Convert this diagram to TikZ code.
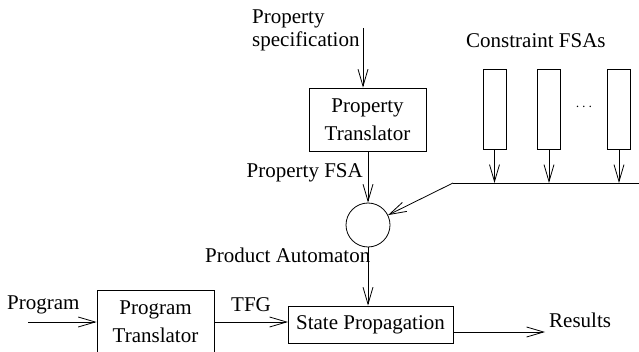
\documentclass[tikz,border=0pt]{standalone}
\usepackage{fontspec}
\setmainfont{Liberation Serif}
\usetikzlibrary{arrows.meta}
\begin{document}
\begin{tikzpicture}[x=1pt,y=-1pt,
  every node/.style={font=\fontsize{21}{28.5}\selectfont, inner sep=0pt},
  blk/.style={draw, line width=0.8pt, minimum width=#1, align=center},
  fsa/.style={draw, line width=0.8pt, minimum width=23pt, minimum height=80pt},
  arr/.style={-{Straight Barb[length=17pt,width=10pt]}, line width=0.8pt},
  ln/.style={line width=0.8pt}]
\useasboundingbox (0,0) rectangle (639,352);
% boxes
\node[blk=117pt, minimum height=63pt] (pt) at (367.5,119.5) {Property\\Translator};
\node[blk=117pt, minimum height=63pt] (prt) at (155.5,321.5) {Program\\Translator};
\node[blk=165pt, minimum height=37pt] (sp) at (370.5,324.5) {State Propagation};
\node[draw, circle, line width=0.8pt, minimum size=44pt] (circ) at (368,225) {};
\node[fsa] (c1) at (494.5,109) {};
\node[fsa] (c2) at (549,109) {};
\node[fsa] (c3) at (619,109) {};
\node (dots) at (584,107) {\fontsize{14}{14}\selectfont $\cdots$};
% labels
\node[anchor=base west] (specA) at (252,24) {Property};
\node[anchor=base west] (specB) at (252,47) {specification};
\node[anchor=base west] (cfsa) at (466,48) {Constraint FSAs};
\node[anchor=base east] (pfsa) at (363,178) {Property FSA};
\node[anchor=base west] (pa) at (205,263) {Product Automaton};
\node[anchor=base west] (prog) at (7,309) {Program};
\node[anchor=base west] (tfg) at (231,311) {TFG};
\node[anchor=base west] (res) at (549,327) {Results};
% coordinates
\coordinate (specin) at (363,28);
\coordinate (busL) at (453,183);
\coordinate (busR) at (639,183);
\coordinate (progin) at (28,322);
\coordinate (tfgend) at (288,322);
\coordinate (resout) at (453,332);
\coordinate (resend) at (545,332);
% connectors
\draw[arr] (specin) -- (specin |- pt.north);
\draw[arr] (pt.south -| circ.north) -- (circ.north);
\draw[arr] (circ.south) -- (circ.south |- sp.north);
\draw[ln] (busL) -- (busR);
\draw[arr] (c1.south) -- (c1.south |- busL);
\draw[arr] (c2.south) -- (c2.south |- busL);
\draw[arr] (c3.south) -- (c3.south |- busL);
\draw[arr] (busL) -- (circ);
\draw[arr] (progin) -- (progin -| prt.west);
\draw[arr] (prt.east |- tfgend) -- (tfgend);
\draw[arr] (resout) -- (resend);
\end{tikzpicture}
\end{document}
